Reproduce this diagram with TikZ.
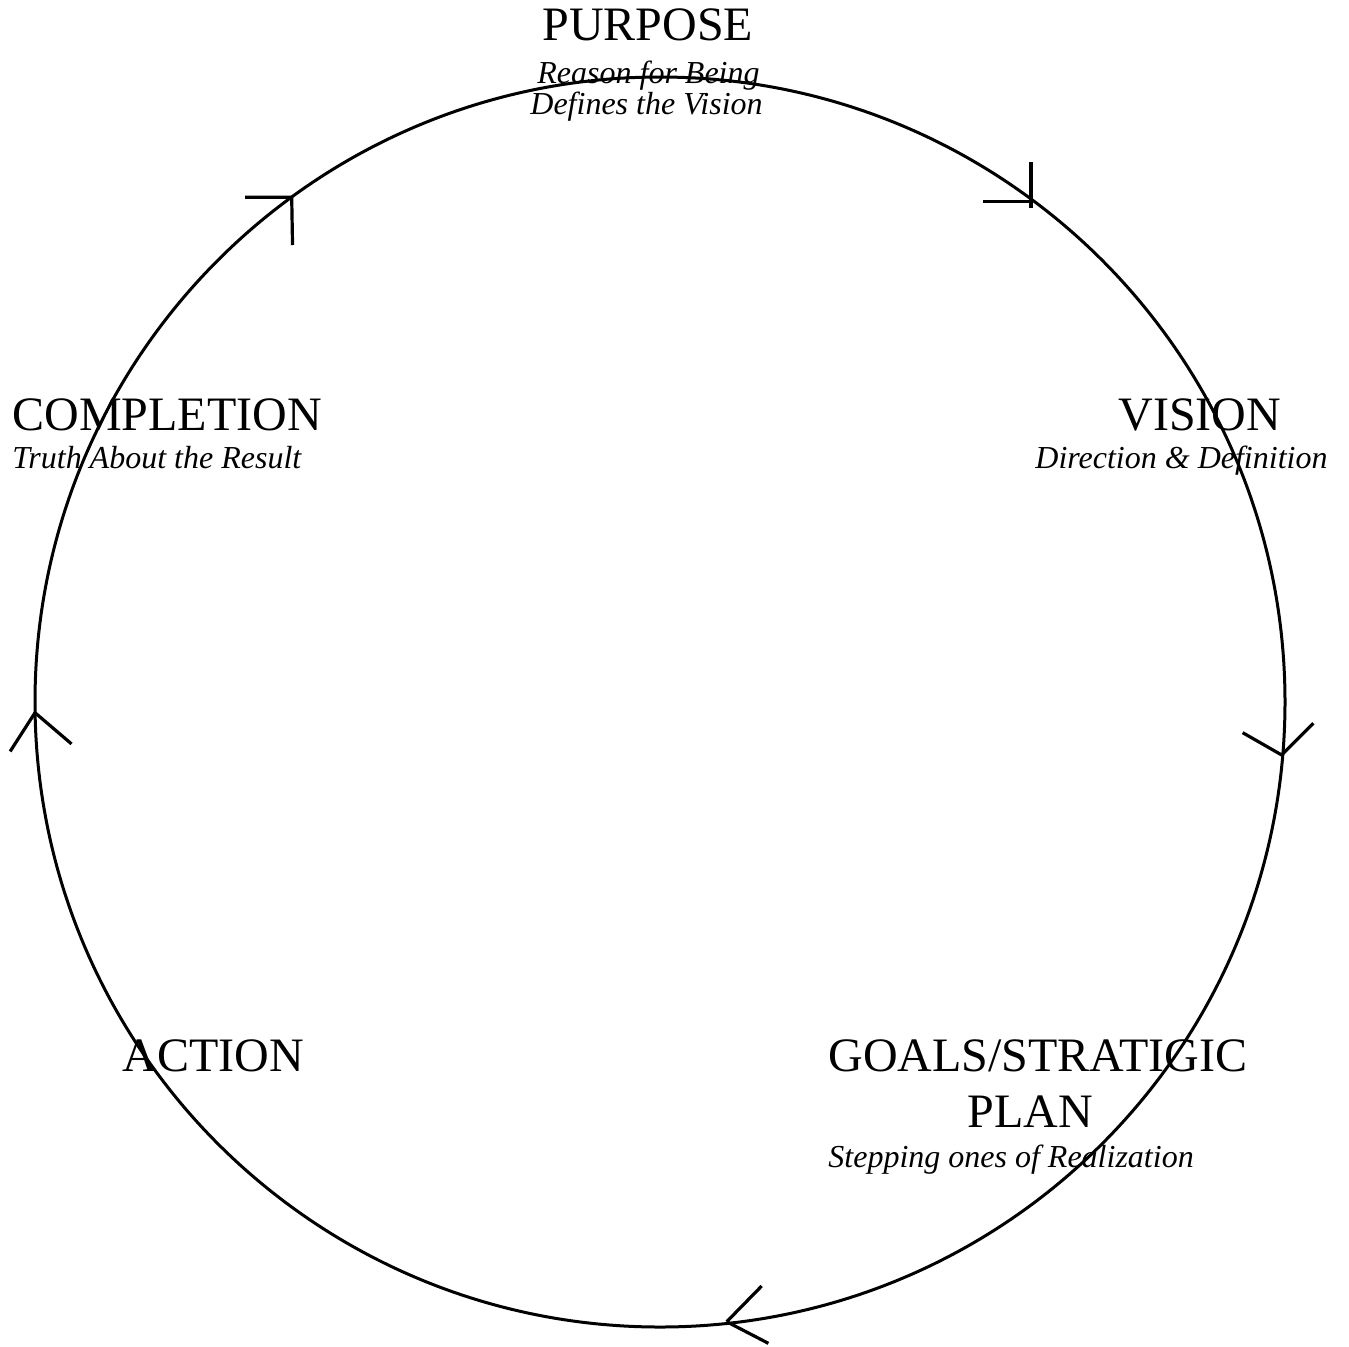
\documentclass[tikz,border=0pt]{standalone}
\usepackage{fontspec}
\setmainfont{Liberation Serif}
\begin{document}
\begin{tikzpicture}[x=0.5pt,y=-0.5pt,
  ring/.style={line width=1.5pt},
  armline/.style={line width=1.6pt},
  big/.style={inner sep=0pt,anchor=base west,font=\fontsize{24pt}{28pt}\selectfont},
  small/.style={inner sep=0pt,anchor=base west,font=\fontsize{16pt}{19pt}\selectfont\itshape}]
\useasboundingbox (0,0) rectangle (1349,1346);
\coordinate (c) at (660,702);
\draw[ring] (c) circle[radius=625];
% labels
\node[big] (purpose) at (542,40) {PURPOSE};
\node[small] (purpose1) at (537,83) {Reason for Being};
\node[small] (purpose2) at (530,114) {Defines the Vision};
\node[big] (completion) at (12,430) {COMPLETION};
\node[small] (completion1) at (12,468) {Truth About the Result};
\node[big] (vision) at (1118,430) {VISION};
\node[small] (vision1) at (1035,468) {Direction \& Definition};
\node[big] (goals) at (828,1071) {GOALS/STRATIGIC};
\node[big] (plan) at (967,1127) {PLAN};
\node[small] (goals1) at (828,1167) {Stepping ones of Realization};
\node[big] (action) at (122,1071) {ACTION};
% arrowheads (page angles negated because y points down)
\coordinate (tTR) at (1031,201.7);
\coordinate (tR) at (1281.7,755);
\coordinate (tB) at (726.7,1321.7);
\coordinate (tL) at (35,712.7);
\coordinate (tTL) at (291.7,197.3);
\draw[armline] (tTR) -- ++(-180:47.7) (tTR) ++(0,6) -- ++(-90:46);
\draw[armline] (tR) -- ++(-150.2:45) (tR) -- ++(-45:44.8);
\draw[armline] (tB) -- ++(-45.6:50) (tB) -- ++(27.4:47);
\draw[armline] (tL) -- ++(-237.3:46) (tL) -- ++(40.5:48);
\draw[armline] (tTL) -- ++(-180:46.7) (tTL) -- ++(-271:47.7);
\end{tikzpicture}
\end{document}
